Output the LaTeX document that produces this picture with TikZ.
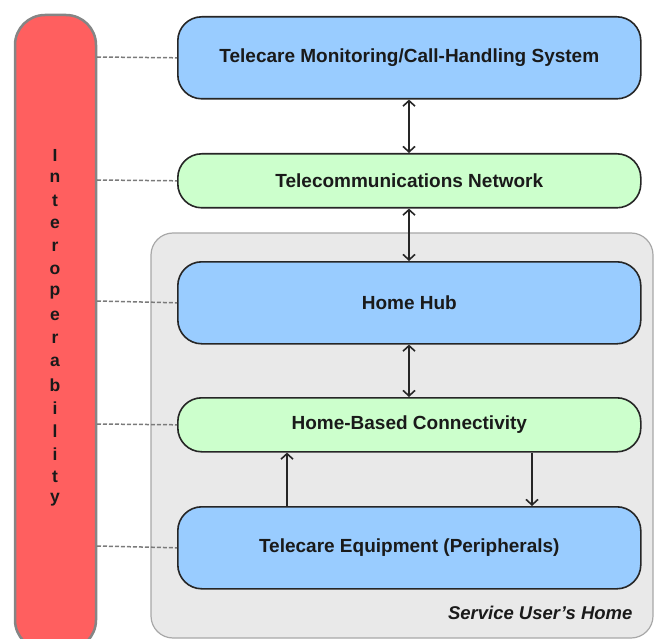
\documentclass[tikz,border=0pt]{standalone}
\usepackage{fontspec}
\setmainfont{Liberation Sans}
\usetikzlibrary{arrows.meta}
\definecolor{bluebox}{HTML}{99CCFF}
\definecolor{greenbox}{HTML}{CCFFCC}
\definecolor{redbar}{HTML}{FF5F5F}
\definecolor{barline}{HTML}{858585}
\definecolor{homefill}{HTML}{E9E9E9}
\definecolor{homeline}{HTML}{A8A8A8}
\definecolor{dashcol}{HTML}{7A7A7A}
\definecolor{txt}{HTML}{1A1A1A}
\begin{document}
\begin{tikzpicture}[x=1pt,y=-1pt,
  layerbox/.style={draw=black!85, line width=1.6pt, rounded corners=24pt, minimum width=463pt, anchor=north west, inner sep=0pt, font=\bfseries\fontsize{19}{22}\selectfont, text=txt},
  bluebx/.style={layerbox, fill=bluebox, minimum height=82pt},
  greenbx/.style={layerbox, fill=greenbox, minimum height=54pt, rounded corners=24pt},
  link/.style={dashcol, line width=1.5pt, dash pattern=on 4pt off 2pt},
  flow/.style={line width=1.6pt, black!85, -{Straight Barb[length=5.5pt,width=12pt,line width=1.6pt]}},
  flow2/.style={line width=1.6pt, black!85, {Straight Barb[length=5.5pt,width=12pt,line width=1.6pt]}-{Straight Barb[length=5.5pt,width=12pt,line width=1.6pt]}},
  letter/.style={font=\bfseries\fontsize{17.5}{20}\selectfont, text=txt, inner sep=0pt}
]
\useasboundingbox (0,0) rectangle (656,639);
% service user's home region
\draw[fill=homefill, draw=homeline, line width=1.2pt, rounded corners=22pt] (151,233) rectangle (653,638);
\node[font=\bfseries\itshape\fontsize{18.5}{22}\selectfont, text=txt, anchor=east] (homelbl) at (636,613) {Service User’s Home};
% interoperability bar
\draw[fill=redbar, draw=barline, line width=2.5pt, rounded corners=30pt] (15,15) rectangle (96,650);
\coordinate (barR1) at (97,57);
\coordinate (barR2) at (97,180);
\coordinate (barR3) at (97,301);
\coordinate (barR4) at (97,424);
\coordinate (barR5) at (97,546);
\foreach \ch [count=\i from 0] in {I,n,t,e,r,o,p,e,r,a,b,i,l,i,t,y}
  \node[letter] (L\i) at (55,155+23*\i) {\ch};
% boxes
\node[bluebx] (tmc) at (177,16) {Telecare Monitoring/Call-Handling System};
\node[greenbx] (net) at (177,153) {Telecommunications Network};
\node[bluebx] (hub) at (177,261) {Home Hub};
\node[greenbx] (hbc) at (177,397) {Home-Based Connectivity};
\node[bluebx] (teq) at (177,506) {Telecare Equipment (Peripherals)};
% dashed links
\draw[link] (barR1) -- (tmc.west);
\draw[link] (barR2) -- (net.west);
\draw[link] (barR3) -- (hub.west);
\draw[link] (barR4) -- (hbc.west);
\draw[link] (barR5) -- (teq.west);
% arrows
\draw[flow2] (tmc.south -| 409,0) -- (net.north -| 409,0);
\draw[flow2] (net.south -| 409,0) -- (hub.north -| 409,0);
\draw[flow2] (hub.south -| 409,0) -- (hbc.north -| 409,0);
\draw[flow] (teq.north -| 287,0) -- (hbc.south -| 287,0);
\draw[flow] (hbc.south -| 532,0) -- (teq.north -| 532,0);
\end{tikzpicture}
\end{document}
